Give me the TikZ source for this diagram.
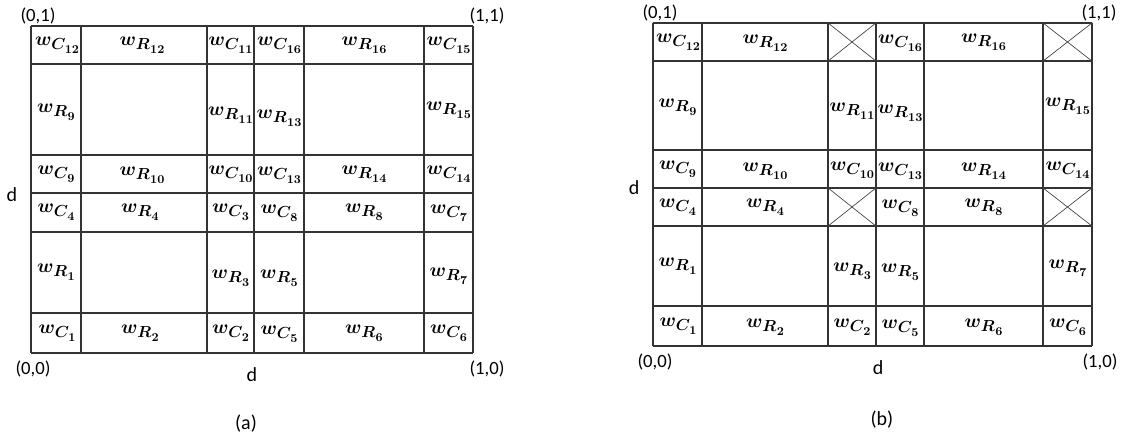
\documentclass[tikz,border=0pt]{standalone}
\usepackage[no-math]{fontspec}
\newfontfamily\calfont{Carlito}
\usetikzlibrary{shapes.misc}
% bold italic math-style label built from explicit font sizes
\newcommand{\wl}[2]{{\fontsize{14.4}{17}\usefont{OML}{cmm}{b}{it}w}\kern0.2pt\raisebox{-3pt}{{\fontsize{11.5}{13}\usefont{OML}{cmm}{b}{it}#1}\kern0.3pt\raisebox{-3pt}{\fontsize{9}{11}\usefont{OT1}{cmr}{bx}{n}#2}}}
\begin{document}
\begin{tikzpicture}[x=0.75pt,y=-0.75pt,
  gridline/.style={draw=black!80, line width=0.8pt},
  wlab/.style={inner sep=0pt},
  coordlab/.style={inner sep=0pt, font=\calfont\fontsize{14}{16}\selectfont},
  dlab/.style={inner sep=0pt, font=\calfont\fontsize{15}{17}\selectfont},
  xcell/.style={cross out, draw=black!75, line width=0.5pt, inner sep=0pt}]
\useasboundingbox (0,0) rectangle (1122,437);
% ---------- panel (a) grid ----------
\foreach \x in {31,81,207,254,304,424,473} \draw[gridline] (\x,26) -- (\x,353);
\foreach \y in {26,64,155,193,232,313,353} \draw[gridline] (31,\y) -- (473,\y);
% row 1
\node[wlab] (aC12) at (57,45) {\wl{C}{12}};
\node[wlab] (aR12) at (142,45) {\wl{R}{12}};
\node[wlab] (aC11) at (230.5,45) {\wl{C}{11}};
\node[wlab] (aC16) at (279,45) {\wl{C}{16}};
\node[wlab] (aR16) at (364,45) {\wl{R}{16}};
\node[wlab] (aC15) at (448.5,45) {\wl{C}{15}};
% row 2
\node[wlab] (aR9) at (56,112) {\wl{R}{9}};
\node[wlab] (aR11) at (230.5,115) {\wl{R}{11}};
\node[wlab] (aR13) at (279,118) {\wl{R}{13}};
\node[wlab] (aR15) at (448.5,110) {\wl{R}{15}};
% row 3
\node[wlab] (aC9) at (56,174) {\wl{C}{9}};
\node[wlab] (aR10) at (142,175) {\wl{R}{10}};
\node[wlab] (aC10) at (230.5,174) {\wl{C}{10}};
\node[wlab] (aC13) at (279,175) {\wl{C}{13}};
\node[wlab] (aR14) at (364,174) {\wl{R}{14}};
\node[wlab] (aC14) at (448.5,174) {\wl{C}{14}};
% row 4
\node[wlab] (aC4) at (56,212.5) {\wl{C}{4}};
\node[wlab] (aR4) at (140,212.5) {\wl{R}{4}};
\node[wlab] (aC3) at (230.5,212.5) {\wl{C}{3}};
\node[wlab] (aC8) at (279,213) {\wl{C}{8}};
\node[wlab] (aR8) at (364,212.5) {\wl{R}{8}};
\node[wlab] (aC7) at (448.5,213) {\wl{C}{7}};
% row 5
\node[wlab] (aR1) at (56,272) {\wl{R}{1}};
\node[wlab] (aR3) at (230.5,278) {\wl{R}{3}};
\node[wlab] (aR5) at (279,278) {\wl{R}{5}};
\node[wlab] (aR7) at (448.5,276) {\wl{R}{7}};
% row 6
\node[wlab] (aC1) at (57,333) {\wl{C}{1}};
\node[wlab] (aR2) at (140,333) {\wl{R}{2}};
\node[wlab] (aC2) at (230.5,333) {\wl{C}{2}};
\node[wlab] (aC5) at (279,334) {\wl{C}{5}};
\node[wlab] (aR6) at (364,333) {\wl{R}{6}};
\node[wlab] (aC6) at (448.5,333) {\wl{C}{6}};
% coordinates (a)
\node[coordlab] (a01) at (38,16) {(0,1)};
\node[coordlab] (a11) at (487,16) {(1,1)};
\node[coordlab] (a00) at (33,369) {(0,0)};
\node[coordlab] (a10) at (487,369) {(1,0)};
\node[dlab] (adb) at (252,375) {d};
\node[dlab] (adl) at (12,195) {d};
\node[dlab] (acap) at (246,424) {(a)};
% ---------- panel (b) grid ----------
\foreach \x in {653,702,828,876,924,1043,1092} \draw[gridline] (\x,23) -- (\x,346);
\foreach \y in {23,61,150,188,226,306,346} \draw[gridline] (653,\y) -- (1092,\y);
% crossed cells
\node[xcell, minimum width=36pt, minimum height=28.5pt] (bX1) at (852,42) {};
\node[xcell, minimum width=36.75pt, minimum height=28.5pt] (bX2) at (1067.5,42) {};
\node[xcell, minimum width=36pt, minimum height=28.5pt] (bX3) at (852,207) {};
\node[xcell, minimum width=36.75pt, minimum height=28.5pt] (bX4) at (1067.5,207) {};
% row 1
\node[wlab] (bC12) at (678,42) {\wl{C}{12}};
\node[wlab] (bR12) at (765,43) {\wl{R}{12}};
\node[wlab] (bC16) at (900,43) {\wl{C}{16}};
\node[wlab] (bR16) at (983.5,42) {\wl{R}{16}};
% row 2
\node[wlab] (bR9) at (677.5,107) {\wl{R}{9}};
\node[wlab] (bR11) at (852,111) {\wl{R}{11}};
\node[wlab] (bR13) at (900,113) {\wl{R}{13}};
\node[wlab] (bR15) at (1067.5,106) {\wl{R}{15}};
% row 3
\node[wlab] (bC9) at (677.5,169) {\wl{C}{9}};
\node[wlab] (bR10) at (765,171) {\wl{R}{10}};
\node[wlab] (bC10) at (852,170) {\wl{C}{10}};
\node[wlab] (bC13) at (900,171) {\wl{C}{13}};
\node[wlab] (bR14) at (983.5,171) {\wl{R}{14}};
\node[wlab] (bC14) at (1067.5,170) {\wl{C}{14}};
% row 4
\node[wlab] (bC4) at (677.5,207) {\wl{C}{4}};
\node[wlab] (bR4) at (765,207) {\wl{R}{4}};
\node[wlab] (bC8) at (900,208) {\wl{C}{8}};
\node[wlab] (bR8) at (983.5,207) {\wl{R}{8}};
% row 5
\node[wlab] (bR1) at (677.5,266) {\wl{R}{1}};
\node[wlab] (bR3) at (852,271) {\wl{R}{3}};
\node[wlab] (bR5) at (900,272) {\wl{R}{5}};
\node[wlab] (bR7) at (1067.5,268) {\wl{R}{7}};
% row 6
\node[wlab] (bC1) at (678,326) {\wl{C}{1}};
\node[wlab] (bR2) at (765,327) {\wl{R}{2}};
\node[wlab] (bC2) at (852,327) {\wl{C}{2}};
\node[wlab] (bC5) at (900,328) {\wl{C}{5}};
\node[wlab] (bR6) at (983.5,327) {\wl{R}{6}};
\node[wlab] (bC6) at (1067.5,327) {\wl{C}{6}};
% coordinates (b)
\node[coordlab] (b01) at (660,13) {(0,1)};
\node[coordlab] (b11) at (1099,13) {(1,1)};
\node[coordlab] (b00) at (655,362) {(0,0)};
\node[coordlab] (b10) at (1100,362) {(1,0)};
\node[dlab] (bdb) at (878,368) {d};
\node[dlab] (bdl) at (634,188) {d};
\node[dlab] (bcap) at (882,420) {(b)};
\end{tikzpicture}
\end{document}
